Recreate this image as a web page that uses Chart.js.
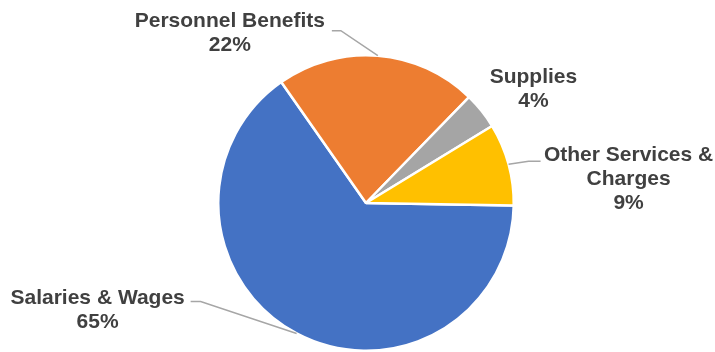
<!DOCTYPE html>
<html>
<head>
<meta charset="utf-8">
<script src="https://cdn.jsdelivr.net/npm/chart.js@4/dist/chart.umd.min.js"></script>
<style>
  html, body { margin: 0; padding: 0; background: #fff; }
  #wrap { width: 715px; height: 352px; position: relative; }
</style>
</head>
<body>
<div id="wrap"><canvas id="pie"></canvas></div>
<script>
const categories = ['Salaries & Wages', 'Personnel Benefits', 'Supplies', 'Other Services & Charges'];
const shares = [65, 22, 4, 9];
const labelLines = [
  ['Salaries & Wages'],
  ['Personnel Benefits'],
  ['Supplies'],
  ['Other Services &', 'Charges']
];
const colors = ['#4472C4', '#ED7D31', '#A5A5A5', '#FFC000'];

// where each label sits relative to its slice's outer edge (text anchor, leader elbow)
const labelPlacement = [
  { tx: -199, ty: -29, ex: -96, ey: -32, tail: -10 },
  { tx: -148, ty: -29, ex: -37, ey: -25, tail: -9 },
  { tx: 52, ty: -28, ex: null },
  { tx: 120, ty: -3, ex: 20, ey: -3, tail: 12 }
];

const outsideLabels = {
  id: 'outsideLabels',
  afterDatasetsDraw(chart) {
    const ctx = chart.ctx;
    const meta = chart.getDatasetMeta(0);
    const total = shares.reduce((a, b) => a + b, 0);
    ctx.save();
    meta.data.forEach((arc, i) => {
      const mid = (arc.startAngle + arc.endAngle) / 2;
      const ex = arc.x + Math.cos(mid) * arc.outerRadius;
      const ey = arc.y + Math.sin(mid) * arc.outerRadius;
      const p = labelPlacement[i];
      if (p.ex !== null) {
        const bx = ex + p.ex, by = ey + p.ey;
        ctx.strokeStyle = '#A6A6A6';
        ctx.lineWidth = 1.5;
        ctx.beginPath();
        ctx.moveTo(ex, ey);
        ctx.lineTo(bx, by);
        ctx.lineTo(bx + p.tail, by);
        ctx.stroke();
      }
      const lines = labelLines[i].concat([Math.round(shares[i] / total * 100) + '%']);
      ctx.fillStyle = '#404040';
      ctx.font = 'bold 21px "Liberation Sans", Arial, sans-serif';
      ctx.textAlign = 'center';
      ctx.textBaseline = 'alphabetic';
      lines.forEach((t, k) => {
        ctx.fillText(t, ex + p.tx, ey + p.ty + k * 24);
      });
    });
    ctx.restore();
  }
};

new Chart(document.getElementById('pie'), {
  type: 'pie',
  data: {
    labels: categories,
    datasets: [{
      data: shares,
      backgroundColor: colors,
      borderColor: '#ffffff',
      borderWidth: 2.5
    }]
  },
  options: {
    responsive: true,
    maintainAspectRatio: false,
    animation: false,
    rotation: 91,
    layout: { padding: { top: 54, left: 17, right: 0, bottom: -2 } },
    plugins: {
      legend: { display: false },
      tooltip: { enabled: false }
    }
  },
  plugins: [outsideLabels]
});
</script>
</body>
</html>
